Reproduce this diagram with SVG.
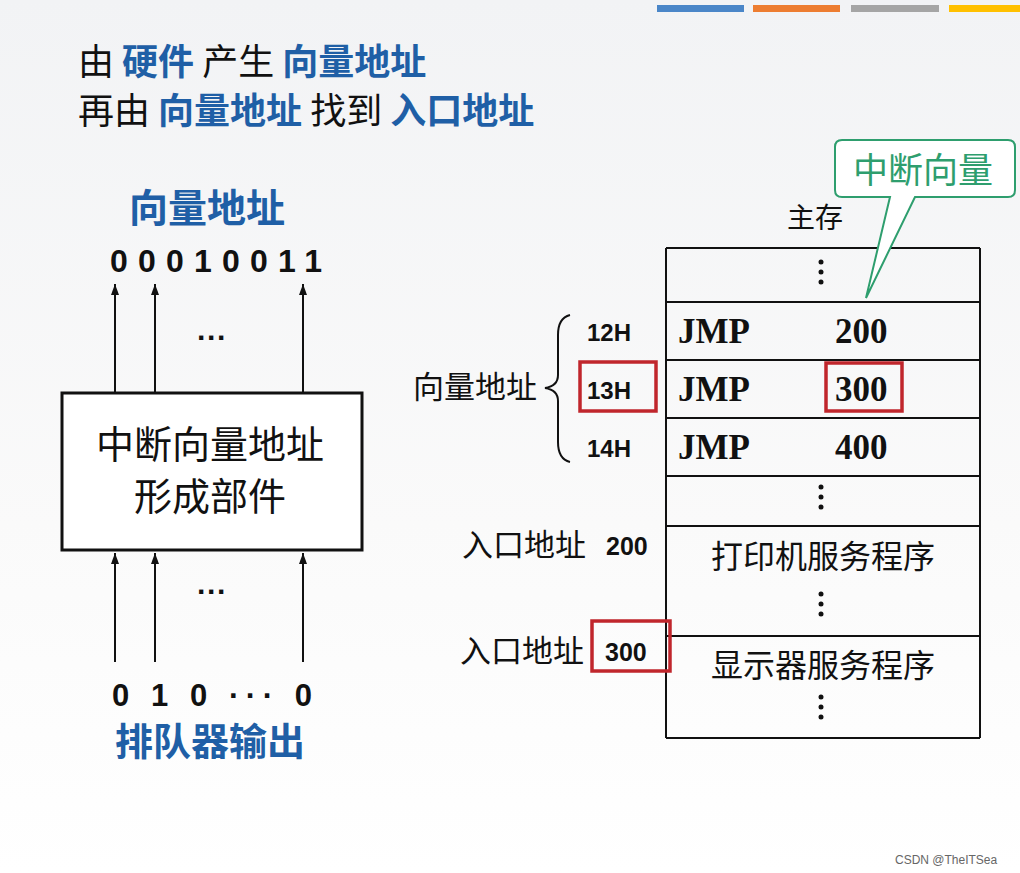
<svg xmlns="http://www.w3.org/2000/svg" width="1020" height="873" viewBox="0 0 1020 873">
<style>
.t{font-family:"Noto Sans CJK SC","Liberation Sans",sans-serif;fill:#111}
.b{fill:#1f5fa6;font-weight:bold}
.n{font-family:"Liberation Sans",sans-serif;font-weight:bold;fill:#111}
.s{font-family:"Liberation Serif",serif;font-weight:bold;fill:#111;font-size:35px}
.ln{stroke:#111;stroke-width:2}
.red{fill:none;stroke:#c0262c;stroke-width:3.5}
</style>
<defs>
<marker id="ah" markerWidth="12" markerHeight="10" refX="11" refY="5" orient="auto" markerUnits="userSpaceOnUse"><path d="M0,1 L11,5 L0,9 Z" fill="#111"/></marker>
<linearGradient id="bg" x1="0" y1="0" x2="0" y2="1"><stop offset="0" stop-color="#f2f3f5"/><stop offset="0.6" stop-color="#fafafa"/><stop offset="1" stop-color="#fff"/></linearGradient>
</defs>
<rect width="1020" height="873" fill="url(#bg)"/>
<rect x="657" y="5" width="87" height="7" fill="#4a86c8"/>
<rect x="753" y="5" width="87" height="7" fill="#ed7d31"/>
<rect x="851" y="5" width="88" height="7" fill="#a5a5a5"/>
<rect x="949" y="5" width="71" height="7" fill="#ffc000"/>
<g id="title" class="t" font-size="36">
<text x="78" y="75">由 <tspan class="b">硬件</tspan> 产生 <tspan class="b">向量地址</tspan></text>
<text x="78" y="124">再由 <tspan class="b">向量地址</tspan> 找到 <tspan class="b">入口地址</tspan></text>
</g>
<g id="connectors">
<line class="ln" x1="115" y1="392" x2="115" y2="284" marker-end="url(#ah)"/>
<line class="ln" x1="155" y1="392" x2="155" y2="284" marker-end="url(#ah)"/>
<line class="ln" x1="303" y1="392" x2="303" y2="284" marker-end="url(#ah)"/>
<line class="ln" x1="115" y1="662" x2="115" y2="553" marker-end="url(#ah)"/>
<line class="ln" x1="155" y1="662" x2="155" y2="553" marker-end="url(#ah)"/>
<line class="ln" x1="303" y1="662" x2="303" y2="553" marker-end="url(#ah)"/>
</g>
<g id="vec">
<text class="t b" x="207" y="222" font-size="39" text-anchor="middle">向量地址</text>
<text class="n" x="110" y="272" font-size="32" textLength="212" lengthAdjust="spacing">00010011</text>
<text class="n" x="212" y="348" font-size="30" text-anchor="middle">···</text>
</g>
<g id="unit">
<rect x="62" y="393" width="300" height="157" fill="#fff" stroke="#111" stroke-width="3"/>
<text class="t" x="210" y="458" font-size="38" text-anchor="middle">中断向量地址</text>
<text class="t" x="210" y="510" font-size="38" text-anchor="middle">形成部件</text>
</g>
<g id="queue">
<text class="n" x="212" y="602" font-size="30" text-anchor="middle">···</text>
<text class="n" x="112" y="706" font-size="31" textLength="200" lengthAdjust="spacing">0 1 0 ··· 0</text>
<text class="t b" x="210" y="755" font-size="38" text-anchor="middle">排队器输出</text>
</g>
<g id="memory">
<text class="t" x="815" y="228" font-size="28" text-anchor="middle">主存</text>
<path class="ln" fill="none" stroke-width="2.5" d="M666,248 H980 M666,248 V738 M980,248 V738 M666,302 H980 M666,360 H980 M666,418 H980 M666,476 H980 M666,526 H980 M666,636 H980 M666,738 H980"/>
<g fill="#111"><circle cx="821" cy="262" r="2.5"/><circle cx="821" cy="272" r="2.5"/><circle cx="821" cy="282" r="2.5"/>
<circle cx="821" cy="487" r="2.5"/><circle cx="821" cy="497" r="2.5"/><circle cx="821" cy="507" r="2.5"/>
<circle cx="821" cy="594" r="2.5"/><circle cx="821" cy="604" r="2.5"/><circle cx="821" cy="614" r="2.5"/>
<circle cx="821" cy="697" r="2.5"/><circle cx="821" cy="707" r="2.5"/><circle cx="821" cy="717" r="2.5"/></g>
<text class="s" x="678" y="343">JMP</text><text class="s" x="835" y="343">200</text>
<text class="s" x="678" y="401">JMP</text><text class="s" x="835" y="401">300</text>
<text class="s" x="678" y="459">JMP</text><text class="s" x="835" y="459">400</text>
<text class="t" x="823" y="568" font-size="32" text-anchor="middle">打印机服务程序</text>
<text class="t" x="823" y="677" font-size="32" text-anchor="middle">显示器服务程序</text>
<rect class="red" x="826" y="363" width="76" height="48"/>
</g>
<g id="vlabels">
<text class="n" x="587" y="341" font-size="24">12H</text>
<text class="n" x="587" y="399" font-size="24">13H</text>
<text class="n" x="587" y="457" font-size="24">14H</text>
<rect class="red" x="580" y="362" width="76" height="49"/>
<path d="M570,315 Q558,318 558,335 V375 Q558,386 545,388 Q558,390 558,401 V442 Q558,459 570,462" fill="none" stroke="#111" stroke-width="2"/>
<text class="t" x="413" y="398" font-size="31">向量地址</text>
</g>
<g id="entries">
<text class="t" x="462" y="556" font-size="31">入口地址</text>
<text class="n" x="606" y="555" font-size="25">200</text>
<text class="t" x="460" y="662" font-size="31">入口地址</text>
<text class="n" x="605" y="661" font-size="25">300</text>
<rect class="red" x="592" y="621" width="78" height="50"/>
</g>
<g id="callout">
<path d="M842,140 H1008 Q1015,140 1015,147 V190 Q1015,197 1008,197 H915 L866,298 L890,197 H842 Q835,197 835,190 V147 Q835,140 842,140 Z" fill="#fff" stroke="#2e9e6e" stroke-width="2"/>
<text class="t" x="923" y="183" font-size="35" style="fill:#2e9e6e" text-anchor="middle">中断向量</text>
</g>
<text x="895" y="864" font-family="Liberation Sans,sans-serif" font-size="12" fill="#666">CSDN @TheITSea</text>
</svg>
